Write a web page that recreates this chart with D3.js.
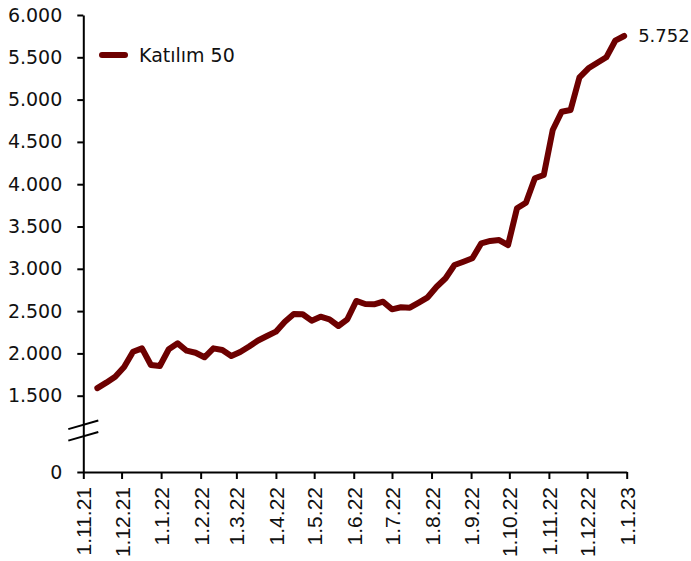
<!DOCTYPE html>
<html>
<head>
<meta charset="utf-8">
<script src="https://cdn.jsdelivr.net/npm/d3@7"></script>
<style>
  html, body { margin: 0; padding: 0; background: #fff; }
  svg { display: block; }
</style>
</head>
<body>
<svg id="chart" width="691" height="561"></svg>
<script>
/* Katılım 50 index, weekly closes (Fridays), Nov 2021 – Dec 2022.
   Y axis is broken between 0 and 1.500. */
(function () {
  'use strict';

  // ---- data -------------------------------------------------------------
  var seriesName = 'Katılım 50';
  var dates = [
    '2021-11-12', '2021-11-19', '2021-11-26', '2021-12-03', '2021-12-10',
    '2021-12-17', '2021-12-24', '2021-12-31', '2022-01-07', '2022-01-14',
    '2022-01-21', '2022-01-28', '2022-02-04', '2022-02-11', '2022-02-18',
    '2022-02-25', '2022-03-04', '2022-03-11', '2022-03-18', '2022-03-25',
    '2022-04-01', '2022-04-08', '2022-04-15', '2022-04-22', '2022-04-29',
    '2022-05-06', '2022-05-13', '2022-05-20', '2022-05-27', '2022-06-03',
    '2022-06-10', '2022-06-17', '2022-06-24', '2022-07-01', '2022-07-08',
    '2022-07-15', '2022-07-22', '2022-07-29', '2022-08-05', '2022-08-12',
    '2022-08-19', '2022-08-26', '2022-09-02', '2022-09-09', '2022-09-16',
    '2022-09-23', '2022-09-30', '2022-10-07', '2022-10-14', '2022-10-21',
    '2022-10-28', '2022-11-04', '2022-11-11', '2022-11-18', '2022-11-25',
    '2022-12-02', '2022-12-09', '2022-12-16', '2022-12-23', '2022-12-30'
  ];
  var values = [
    1590, 1654, 1725, 1840, 2020,
    2060, 1863, 1851, 2049, 2119,
    2032, 2008, 1954, 2060, 2040,
    1969, 2017, 2082, 2153, 2206,
    2257, 2375, 2466, 2462, 2387,
    2434, 2403, 2324, 2403, 2620,
    2584, 2580, 2611, 2521, 2545,
    2540, 2600, 2663, 2788, 2888,
    3045, 3084, 3124, 3301, 3329,
    3340, 3281, 3715, 3781, 4070,
    4109, 4641, 4857, 4877, 5264,
    5370, 5436, 5500, 5696, 5752
  ];
  var yTicks = [0, 1500, 2000, 2500, 3000, 3500, 4000, 4500, 5000, 5500, 6000];
  var xTicks = [
    '2021-11-01', '2021-12-01', '2022-01-01', '2022-02-01', '2022-03-01',
    '2022-04-01', '2022-05-01', '2022-06-01', '2022-07-01', '2022-08-01',
    '2022-09-01', '2022-10-01', '2022-11-01', '2022-12-01', '2023-01-01'
  ];

  // ---- config -----------------------------------------------------------
  var CONFIG = {
    lineColor: '#6d0000',
    left: 83.3, right: 626.7, top: 15, bottom: 472,
    breakY: 395.7           // pixel row of 1.500, just above the axis break
  };

  var parse = d3.timeParse('%Y-%m-%d');
  var data = dates.map(function (d, i) { return { date: parse(d), value: values[i] }; });

  var trLocale = d3.formatLocale({ decimal: ',', thousands: '.', grouping: [3], currency: ['', ''] });
  var fmtNum = trLocale.format(',d');
  var fmtDate = d3.timeFormat('%-d.%-m.%y');

  var svg = d3.select('#chart');

  var x = d3.scaleTime()
    .domain([parse(xTicks[0]), parse(xTicks[xTicks.length - 1])])
    .range([CONFIG.left, CONFIG.right]);

  // polylinear scale: 0 sits at the axis, 1.500..6.000 spread over the rest
  var y = d3.scaleLinear()
    .domain([0, 1500, 6000])
    .range([CONFIG.bottom, CONFIG.breakY, CONFIG.top]);

  // ---- axes -------------------------------------------------------------
  var yAxis = svg.append('g')
    .attr('transform', 'translate(' + CONFIG.left + ',0)')
    .call(d3.axisLeft(y).tickValues(yTicks).tickFormat(fmtNum)
      .tickSize(6).tickSizeOuter(0).tickPadding(15));
  yAxis.select('.domain').attr('stroke', '#000').attr('stroke-width', 2);
  yAxis.selectAll('.tick line').attr('stroke', '#000').attr('stroke-width', 2);
  yAxis.selectAll('.tick text')
    .attr('fill', '#111')
    .style('font-family', '"DejaVu Sans", sans-serif')
    .style('font-size', '19px');

  var xAxis = svg.append('g')
    .attr('transform', 'translate(0,' + CONFIG.bottom + ')')
    .call(d3.axisBottom(x).tickValues(xTicks.map(parse)).tickFormat(fmtDate)
      .tickSize(7).tickSizeOuter(0));
  xAxis.select('.domain').attr('stroke', '#000').attr('stroke-width', 2);
  xAxis.selectAll('.tick line').attr('stroke', '#000').attr('stroke-width', 2);
  xAxis.selectAll('.tick text')
    .attr('fill', '#111')
    .attr('transform', 'rotate(-90)')
    .attr('text-anchor', 'end')
    .attr('x', -15).attr('y', 0).attr('dy', '0.36em')
    .style('font-family', '"Liberation Sans", Arial, sans-serif')
    .style('font-size', '21px');

  // axis break marks (two slanted strokes across the y axis)
  var bx = CONFIG.left, by = (y(0) + y(1500)) / 2 - 3;
  [-6, 5.5].forEach(function (off) {
    svg.append('line')
      .attr('x1', bx - 15).attr('y1', by + off + 4.3)
      .attr('x2', bx + 15).attr('y2', by + off - 4.3)
      .attr('stroke', '#000').attr('stroke-width', 2);
  });

  // ---- series -----------------------------------------------------------
  var line = d3.line()
    .x(function (d) { return x(d.date); })
    .y(function (d) { return y(d.value); });

  svg.append('path')
    .datum(data)
    .attr('d', line)
    .attr('fill', 'none')
    .attr('stroke', CONFIG.lineColor)
    .attr('stroke-width', 6)
    .attr('stroke-linejoin', 'round')
    .attr('stroke-linecap', 'round');

  var last = data[data.length - 1];
  svg.append('text')
    .attr('x', x(last.date) + 14)
    .attr('y', y(last.value))
    .attr('dy', '0.35em')
    .attr('fill', '#111')
    .style('font-family', '"DejaVu Sans", sans-serif')
    .style('font-size', '18px')
    .text(fmtNum(last.value));

  // ---- legend -----------------------------------------------------------
  var lg = svg.append('g').attr('transform', 'translate(102,55)');
  lg.append('line')
    .attr('x1', 0).attr('x2', 23).attr('y1', 0).attr('y2', 0)
    .attr('stroke', CONFIG.lineColor).attr('stroke-width', 6)
    .attr('stroke-linecap', 'round');
  lg.append('text')
    .attr('x', 37).attr('y', 0).attr('dy', '0.35em')
    .attr('fill', '#111')
    .style('font-family', '"DejaVu Sans", sans-serif')
    .style('font-size', '19px')
    .text(seriesName);
})();
</script>
</body>
</html>
